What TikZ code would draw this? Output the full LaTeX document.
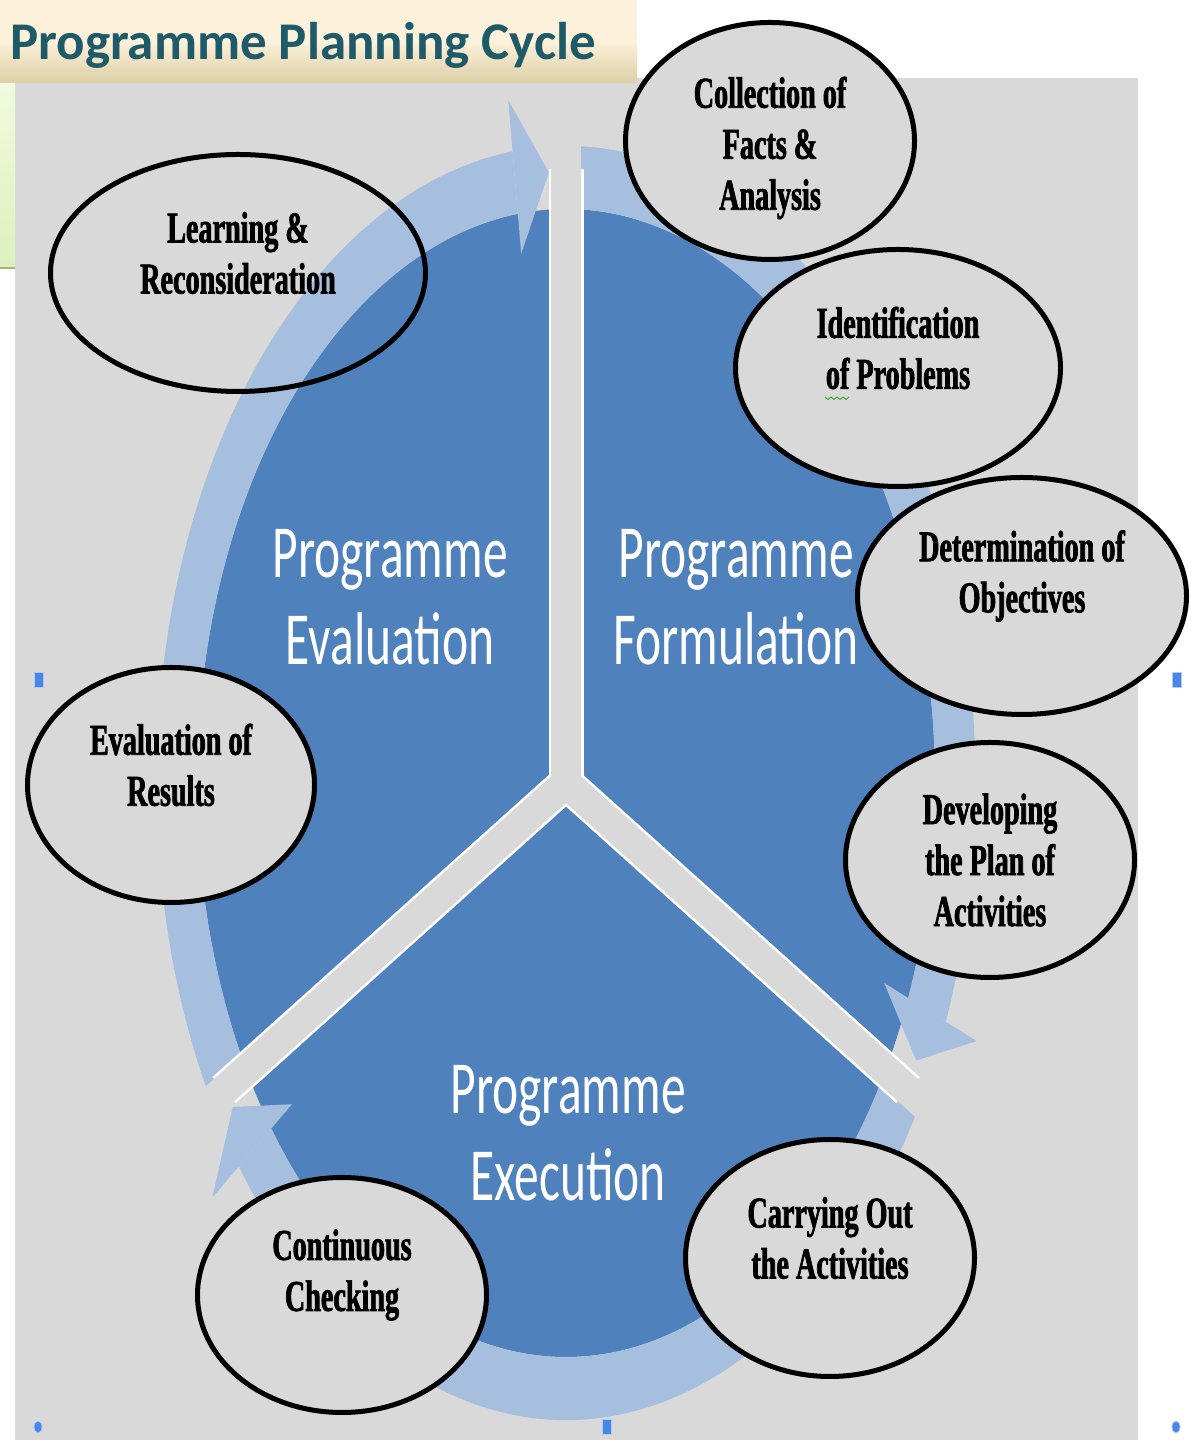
\documentclass[tikz,border=0pt]{standalone}
\usepackage{fontspec}
\setmainfont{Liberation Serif}
\newfontfamily\ovalfont[FakeStretch=0.64, BoldFont={Liberation Serif Bold},
    BoldFeatures={FakeBold=1.6}]{Liberation Serif}
\newfontfamily\segfont[FakeStretch=0.66]{Carlito}
\newfontfamily\titlefont{Carlito}
\usetikzlibrary{shapes.geometric}
\definecolor{ppcGrey}{HTML}{D9D9D9}
\definecolor{ppcBlue}{HTML}{4F81BD}
\definecolor{ppcBlueLight}{HTML}{A7BFDE}
\definecolor{ppcTeal}{HTML}{1F5A69}
\definecolor{ppcBannerTop}{HTML}{FCF1DA}
\definecolor{ppcBannerBot}{HTML}{DCCFA6}
\definecolor{ppcGreenTop}{HTML}{F1FADF}
\definecolor{ppcGreenBot}{HTML}{DDF0BC}
\definecolor{ppcGreenLine}{HTML}{A4B77A}
\definecolor{ppcSquiggle}{HTML}{3DAA3D}
\definecolor{ppcHandle}{HTML}{4A86E8}

\begin{document}
\begin{tikzpicture}[
    x=1pt, y=1pt,
    every node/.style={inner sep=0pt},
    % --- oval styles ---
    oval/.style={ellipse, draw=black, line width=5pt, fill=ppcGrey,
                 minimum width=289pt, minimum height=237pt},
    hollow/.style={oval, fill=none},
    otext/.style={font=\ovalfont\bfseries\fontsize{44}{51}\selectfont,
                  align=center},
    twoline/.style={yshift=20pt},
    % --- cycle styles ---
    seglabel/.style={font=\segfont\fontsize{75}{87}\selectfont,
                     text=white, align=center},
    ring/.style={fill=ppcBlueLight},
    gapedge/.style={draw=white, line width=35pt},
    gapline/.style={draw=ppcGrey, line width=30pt},
    % --- banner styles ---
    titletext/.style={font=\titlefont\bfseries\fontsize{53}{60}\selectfont,
                      text=ppcTeal},
    handle/.style={fill=ppcHandle, draw=ppcHandle!45, line width=0.8pt},
]
\useasboundingbox (0,0) rectangle (1191,1440);

% ===== BACKDROP =============================================================
\fill[white] (0,0) rectangle (1191,1440);
\fill[ppcGrey] (15,0) rectangle (1138,1362);
\shade[top color=ppcGreenTop, bottom color=ppcGreenBot] (0,1172) rectangle (15,1357);
\draw[ppcGreenLine, line width=2pt] (0,1172) -- (15,1172);

% ===== CYCLE ================================================================
\begin{scope}[shift={(566,657)}, xscale=369, yscale=574]
  \fill[ppcBlue] (0,0) circle[radius=1];
  % -- rim arrows, clockwise: start / back of head --
  \foreach \from/\to in {210/97.5, 90/-22, 330/217} {
    \fill[ring] (\from:1) arc[start angle=\from, end angle=\to, radius=1]
        -- (\to:1.11) arc[start angle=\to, end angle=\from, radius=1.11] -- cycle;
    \fill[ring] (\to:0.93) -- (\to-5:1.065) -- (\to:1.2) -- cycle;
  }
  % -- gaps between segments --
  \foreach \a in {90, 210, 330} \draw[gapedge] (0,0) -- (\a:1.07);
  \foreach \a in {90, 210, 330} \draw[gapline] (0,0) -- (\a:1.25);
\end{scope}

% -- segment titles --
\node[seglabel] (evaluation)  at (390,843) {Programme\\Evaluation};
\node[seglabel] (formulation) at (736,843) {Programme\\Formulation};
\node[seglabel] (execution)   at (568,307) {Programme\\Execution};

% ===== STEP OVALS ===========================================================

% -- Collection --
\node[oval] (coll) at (770,1299) {};
\node[otext, yshift=-7pt] (coll-t) at (coll) {Collection of\\Facts \&\\Analysis};

% -- Identification --
\node[oval, minimum width=325pt] (ident) at (898,1072) {};
\node[otext, twoline] (ident-t) at (ident) {Identification\\of Problems};
\draw[ppcSquiggle, line width=1pt]
    (825,1043) \foreach \i in {1,...,8} { -- ++(3,{mod(\i,2)==1 ? -2.5 : 2.5}) };

% -- Determination --
\node[oval, minimum width=329pt] (deter) at (1022,844) {};
\node[otext, twoline] (deter-t) at (deter) {Determination of\\Objectives};

% -- Developing --
\node[oval, minimum height=235pt] (devel) at (990,580) {};
\node[otext] (devel-t) at (devel) {Developing\\the Plan of\\Activities};

% -- Carrying Out --
\node[oval] (carry) at (830,182) {};
\node[otext, twoline] (carry-t) at (carry) {Carrying Out\\the Activities};

% -- Continuous --
\node[oval, minimum height=235pt] (cont) at (342,145) {};
\node[otext, twoline] (cont-t) at (cont) {Continuous\\Checking};

% -- Evaluation --
\node[oval, minimum width=287pt, minimum height=235pt] (evres) at (171,655) {};
\node[otext, twoline] (evres-t) at (evres) {Evaluation of\\Results};

% -- Learning --
\node[hollow, minimum width=375pt] (learn) at (238,1167) {};
\node[otext, twoline] (learn-t) at (learn) {Learning \&\\Reconsideration};

% ===== TITLE BANNER =========================================================
\shade[top color=ppcBannerTop, bottom color=ppcBannerBot, middle color=ppcBannerTop]
    (0,1357) rectangle (637,1440);
\node[titletext, anchor=base west] (title) at (10,1380) {Programme Planning Cycle};

% -- selection handles --
\fill[handle] (34,753) rectangle (43,768);
\fill[handle] (1172,753) rectangle (1181,768);
\fill[handle] (602,6) rectangle (611,21);
\fill[handle] (38,13) ellipse[x radius=4, y radius=6];
\fill[handle] (1176,13) ellipse[x radius=4, y radius=6];

\end{tikzpicture}
\end{document}
